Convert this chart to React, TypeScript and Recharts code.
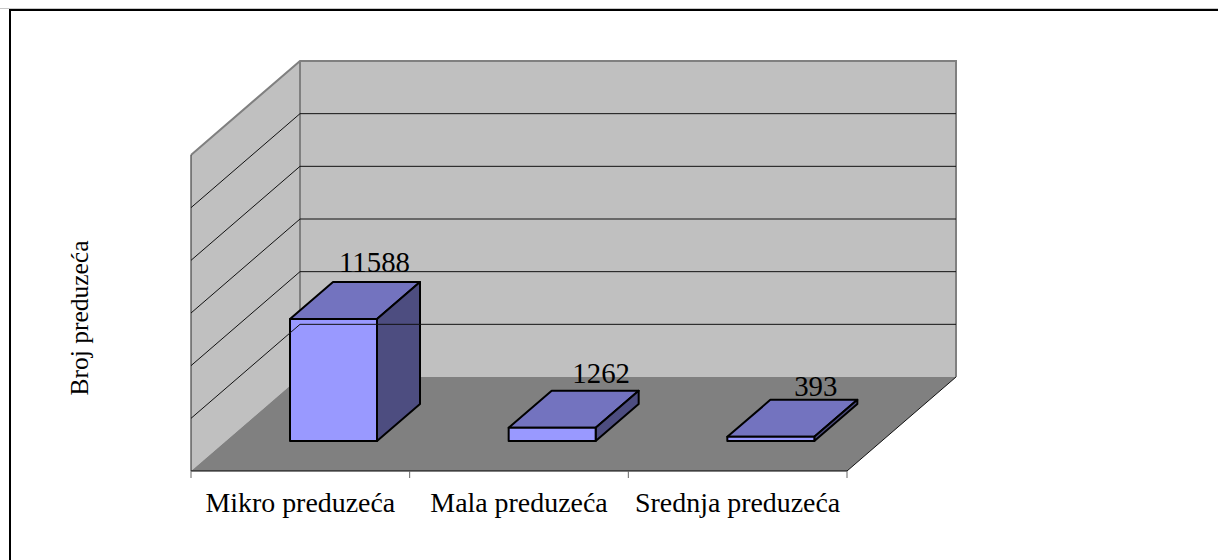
import { BarChart, Bar, XAxis, YAxis, ReferenceArea, ReferenceLine, LabelList } from "recharts";

const categories = ["Mikro preduzeća", "Mala preduzeća", "Srednja preduzeća"];
const values = [11588, 1262, 393];
const gridValues = [5000, 10000, 15000, 20000, 25000];
const yMax = 30000;
const yLabel = "Broj preduzeća";

const chartData = categories.map((name, i) => ({ name, value: values[i] }));

const FONT = "'Liberation Serif', serif";
// wall depth and bar depth of the fake 3D projection
const DX = 109;
const DY = -94;
const BAR_DX = 43;
const BAR_DY = -37;
const BAR_SHIFT_X = 33;
const BAR_SHIFT_Y = -30;
// the value labels were hand placed in the original
const LABEL_NUDGE = [
    { x: 41, y: -10 },
    { x: 49, y: -8 },
    { x: 45, y: -4 },
];

const pts = (list: number[][]) => list.map((p) => p.join(",")).join(" ");

function Walls({ x, y, width, height }: any) {
    const bottom = y + height;
    const right = x + width;
    const ticks = categories.map((_, i) => x + (width * i) / categories.length).concat(right);
    return (
        <g>
            <polygon points={pts([[x + DX, y + DY], [right + DX, y + DY], [right + DX, bottom + DY], [x + DX, bottom + DY]])} fill="#c0c0c0" />
            <polygon points={pts([[x, y], [x + DX, y + DY], [x + DX, bottom + DY], [x, bottom]])} fill="#c0c0c0" />
            <polygon points={pts([[x, bottom], [right, bottom], [right + DX, bottom + DY], [x + DX, bottom + DY]])} fill="#808080" />
            <polyline points={pts([[x, y], [x + DX, y + DY], [right + DX, y + DY], [right + DX, bottom + DY]])} fill="none" stroke="#808080" strokeWidth={2} />
            <line x1={x + DX} y1={y + DY} x2={x + DX} y2={bottom + DY} stroke="#808080" strokeWidth={2} />
            <line x1={x} y1={y} x2={x} y2={bottom} stroke="#444" strokeWidth={1.2} />
            <line x1={x} y1={bottom} x2={right} y2={bottom} stroke="#000" strokeWidth={1.2} />
            <line x1={right} y1={bottom} x2={right + DX} y2={bottom + DY} stroke="#111" strokeWidth={1} />
            {ticks.map((t) => (
                <line key={t} x1={t} y1={bottom} x2={t} y2={bottom + 7} stroke="#666" strokeWidth={1} />
            ))}
        </g>
    );
}

function GridLine({ x1, y1, x2 }: any) {
    return (
        <polyline
            points={pts([[x1, y1], [x1 + DX, y1 + DY], [x2 + DX, y1 + DY]])}
            fill="none"
            stroke="#111"
            strokeWidth={1}
        />
    );
}

function Bar3D({ x, y, width, height }: any) {
    const left = x + BAR_SHIFT_X;
    const top = y + BAR_SHIFT_Y;
    const right = left + width;
    const bottom = top + height;
    const line = { stroke: "#000", strokeWidth: 2, strokeLinejoin: "round" as const };
    return (
        <g>
            <polygon points={pts([[left, top], [left + BAR_DX, top + BAR_DY], [right + BAR_DX, top + BAR_DY], [right, top]])} fill="#7373bf" {...line} />
            <polygon points={pts([[right, top], [right + BAR_DX, top + BAR_DY], [right + BAR_DX, bottom + BAR_DY], [right, bottom]])} fill="#4d4d80" {...line} />
            <rect x={left} y={top} width={width} height={height} fill="#9999ff" {...line} />
        </g>
    );
}

function ValueLabel({ x, y, width, value, index }: any) {
    const nudge = LABEL_NUDGE[index];
    return (
        <text
            x={x + BAR_SHIFT_X + width / 2 + nudge.x}
            y={y + BAR_SHIFT_Y + BAR_DY + nudge.y}
            textAnchor="middle"
            fontFamily={FONT}
            fontSize={28.8}
            fill="#000"
        >
            {value}
        </text>
    );
}

function AxisTitle() {
    return (
        <text x={88} y={318} transform="rotate(-90 88 318)" textAnchor="middle" fontFamily={FONT} fontSize={25.5} fill="#000">
            {yLabel}
        </text>
    );
}

export default function App() {
    return (
        <div style={{ position: "absolute", left: 0, top: 0, width: 1218, height: 560, background: "#fff" }}>
            <div style={{ position: "absolute", left: 0, right: 0, top: 8, height: 1, background: "#c8c8c8" }} />
            <div style={{ position: "absolute", left: 9, right: 0, top: 9, height: 1.5, background: "#000" }} />
            <div style={{ position: "absolute", left: 9, top: 9, bottom: 0, width: 1.5, background: "#000" }} />
            <BarChart
                width={1218}
                height={560}
                data={chartData}
                margin={{ top: 155, right: 371, bottom: 48, left: 0 }}
                barSize={87}
                style={{ position: "absolute", left: 0, top: 0 }}
            >
                <XAxis
                    dataKey="name"
                    height={41}
                    interval={0}
                    axisLine={false}
                    tickLine={false}
                    tickMargin={15}
                    tick={{ fontFamily: FONT, fontSize: 27.9, fill: "#000" }}
                />
                <YAxis
                    width={191}
                    domain={[0, yMax]}
                    tick={false}
                    axisLine={false}
                    tickLine={false}
                    label={{ value: yLabel, content: <AxisTitle /> }}
                />
                <ReferenceArea y1={0} y2={yMax} shape={<Walls />} />
                {gridValues.map((v) => (
                    <ReferenceLine key={v} y={v} shape={<GridLine />} />
                ))}
                <Bar dataKey="value" shape={<Bar3D />} isAnimationActive={false}>
                    <LabelList dataKey="value" content={<ValueLabel />} />
                </Bar>
            </BarChart>
        </div>
    );
}
